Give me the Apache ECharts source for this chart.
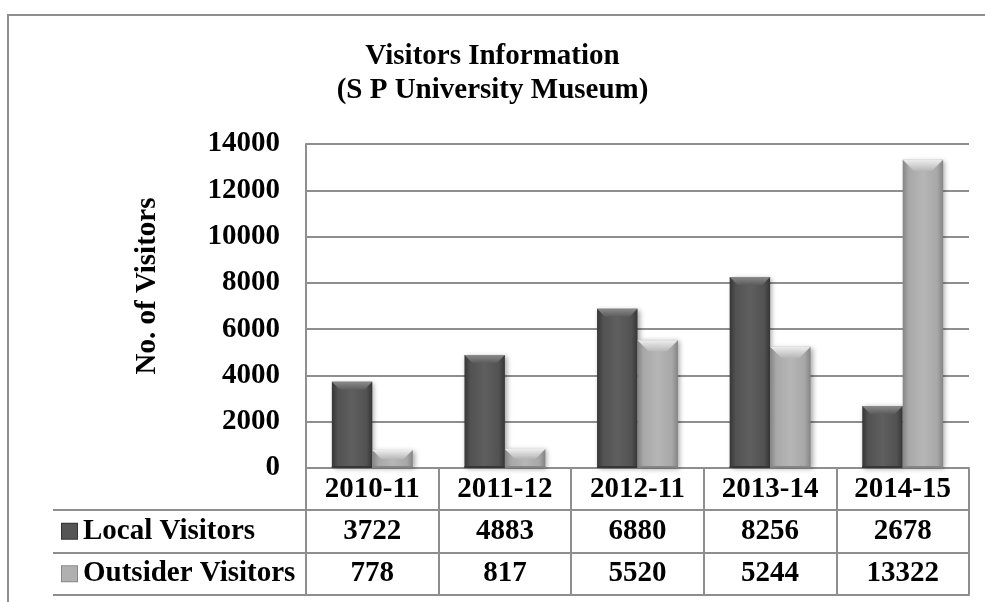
<!DOCTYPE html>
<html>
<head>
<meta charset="utf-8">
<title>Visitors Information</title>
<script src="https://cdn.jsdelivr.net/npm/echarts@6/dist/echarts.min.js"></script>
<style>
    html, body { margin: 0; padding: 0; background: #fff; }
    #container { width: 985px; height: 602px; }
</style>
</head>
<body>
<div id="container"></div>
<script>
    const categories = ["2010-11", "2011-12", "2012-11", "2013-14", "2014-15"];
    const seriesNames = ["Local Visitors", "Outsider Visitors"];
    const localVisitors = [3722, 4883, 6880, 8256, 2678];
    const outsiderVisitors = [778, 817, 5520, 5244, 13322];
    const yMin = 0, yMax = 14000, yStep = 2000;

    const font = "'Liberation Serif', 'Times New Roman', serif";
    const lineColor = "#8e8e8e";

    // bevelled bar look: [edge, mid, center, top bevel light, top bevel dark]
    const barShades = [
        ["#363636", "#525252", "#5f5f5f", "#8a8a8a", "#5c5c5c"],
        ["#848484", "#a8a8a8", "#b6b6b6", "#eeeeee", "#b8b8b8"]
    ];

    function sideGradient(c) {
        return new echarts.graphic.LinearGradient(0, 0, 1, 0, [
            { offset: 0, color: c[0] },
            { offset: 0.15, color: c[1] },
            { offset: 0.5, color: c[2] },
            { offset: 0.85, color: c[1] },
            { offset: 1, color: c[0] }
        ]);
    }

    // custom bar: body plus a lighter bevel at the top
    function renderBar(params, api) {
        const cat = api.value(0);
        const val = api.value(1);
        const s = api.value(2);
        const top = api.coord([cat, val]);
        const base = api.coord([cat, 0]);
        const band = api.size([1, 0])[0];
        const w = band * 0.305;
        const x = top[0] - w + s * w;
        const y = top[1];
        const h = base[1] - top[1];
        const b = Math.min(s === 0 ? 8 : 11, h / 2);
        const c = barShades[s];
        return {
            type: "group",
            children: [{
                type: "rect",
                shape: { x: x, y: y, width: w, height: h },
                style: {
                    fill: sideGradient(c),
                    shadowBlur: 5,
                    shadowColor: "rgba(0,0,0,0.35)",
                    shadowOffsetX: 2,
                    shadowOffsetY: 1
                }
            }, {
                type: "polygon",
                shape: { points: [[x, y], [x + w, y], [x + w - b, y + b], [x + b, y + b]] },
                style: {
                    fill: new echarts.graphic.LinearGradient(0, 0, 0, 1, [
                        { offset: 0, color: c[3] },
                        { offset: 1, color: c[4] }
                    ])
                }
            }, {
                type: "rect",
                shape: { x: x, y: y + h - 2, width: w, height: 2 },
                style: { fill: c[0] }
            }]
        };
    }

    // one text per table cell, centred through the table grid's axes
    function renderCell(params, api) {
        const p = api.coord([api.value(0), api.value(1)]);
        return {
            type: "text",
            x: p[0],
            y: p[1],
            style: {
                text: String(api.value(2)),
                fill: "#000",
                font: "bold 29px " + font,
                align: "center",
                verticalAlign: "middle"
            }
        };
    }

    const barData = [[], []];
    localVisitors.forEach((v, i) => barData[0].push([i, v, 0]));
    outsiderVisitors.forEach((v, i) => barData[1].push([i, v, 1]));

    // cells of the data table: [column, row, value]
    const tableCells = [];
    localVisitors.forEach((v, i) => tableCells.push([i, 0, v]));
    outsiderVisitors.forEach((v, i) => tableCells.push([i, 1, v]));

    const chart = echarts.init(document.getElementById("container"), null, { renderer: "canvas" });

    const boldText = { fontFamily: font, fontWeight: "bold", fontSize: 29, color: "#000" };

    const option = {
        animation: false,
        textStyle: { fontFamily: font },
        title: {
            text: "Visitors Information\n(S P University Museum)",
            left: "center",
            top: 35,
            textStyle: Object.assign({}, boldText, { lineHeight: 34 })
        },
        graphic: [{
            type: "rect",
            silent: true,
            shape: { x: 8, y: 15, width: 1200, height: 1000 },
            style: { fill: "none", stroke: lineColor, lineWidth: 2 }
        }],
        grid: [
            { left: 306, right: 16, top: 144, bottom: 134 },
            { left: 306, right: 16, top: 510, height: 85 }
        ],
        xAxis: [{
            type: "category",
            gridIndex: 0,
            data: categories,
            axisLine: { show: true, lineStyle: { color: lineColor, width: 2 } },
            axisTick: { show: true, length: 42, interval: 0, lineStyle: { color: lineColor, width: 2 } },
            axisLabel: Object.assign({ margin: 7, lineHeight: 29, interval: 0 }, boldText),
            splitLine: { show: false }
        }, {
            type: "category",
            gridIndex: 1,
            data: categories,
            axisLine: { show: true, lineStyle: { color: lineColor, width: 2 } },
            axisTick: { show: false },
            axisLabel: { show: false },
            splitLine: { show: true, interval: 0, lineStyle: { color: lineColor, width: 2 } }
        }],
        yAxis: [{
            type: "value",
            gridIndex: 0,
            min: yMin,
            max: yMax,
            interval: yStep,
            name: "No. of Visitors",
            nameLocation: "middle",
            nameGap: 144,
            nameTextStyle: Object.assign({ padding: [0, 0, 0, 40] }, boldText),
            axisLine: { show: true, lineStyle: { color: lineColor, width: 2 } },
            axisTick: { show: false },
            axisLabel: Object.assign({ margin: 26, formatter: v => String(v) }, boldText),
            splitLine: { show: true, lineStyle: { color: lineColor, width: 2 } }
        }, {
            // row labels with legend keys
            type: "category",
            gridIndex: 1,
            inverse: true,
            data: seriesNames,
            axisLine: { show: true, lineStyle: { color: lineColor, width: 2 } },
            axisTick: { show: true, length: 253, interval: 0, lineStyle: { color: lineColor, width: 2 } },
            splitLine: { show: true, interval: 0, lineStyle: { color: lineColor, width: 2 } },
            axisLabel: {
                margin: 244,
                align: "left",
                formatter: (v, i) => (i === 0 ? "{k0|}" : "{k1|}") + "{t|" + v + "}",
                rich: {
                    k0: { width: 15, height: 15, backgroundColor: "#555", borderColor: "#333", borderWidth: 1 },
                    k1: { width: 15, height: 15, backgroundColor: "#b0b0b0", borderColor: "#888", borderWidth: 1 },
                    t: Object.assign({ padding: [0, 0, 0, 6] }, boldText)
                }
            }
        }, {
            // left border of the legend column
            type: "category",
            gridIndex: 1,
            inverse: true,
            data: seriesNames,
            offset: 253,
            axisLine: { show: true, lineStyle: { color: lineColor, width: 2 } },
            axisTick: { show: false },
            axisLabel: { show: false },
            splitLine: { show: false }
        }],
        series: [{
            name: seriesNames[0],
            type: "custom",
            xAxisIndex: 0,
            yAxisIndex: 0,
            data: barData[0],
            encode: { x: 0, y: 1 },
            renderItem: renderBar
        }, {
            name: seriesNames[1],
            type: "custom",
            xAxisIndex: 0,
            yAxisIndex: 0,
            data: barData[1],
            encode: { x: 0, y: 1 },
            renderItem: renderBar
        }, {
            name: "table",
            type: "custom",
            xAxisIndex: 1,
            yAxisIndex: 1,
            data: tableCells,
            encode: { x: 0, y: 1 },
            silent: true,
            renderItem: renderCell
        }]
    };

    chart.setOption(option);
    window.addEventListener("resize", chart.resize);
</script>
</body>
</html>
